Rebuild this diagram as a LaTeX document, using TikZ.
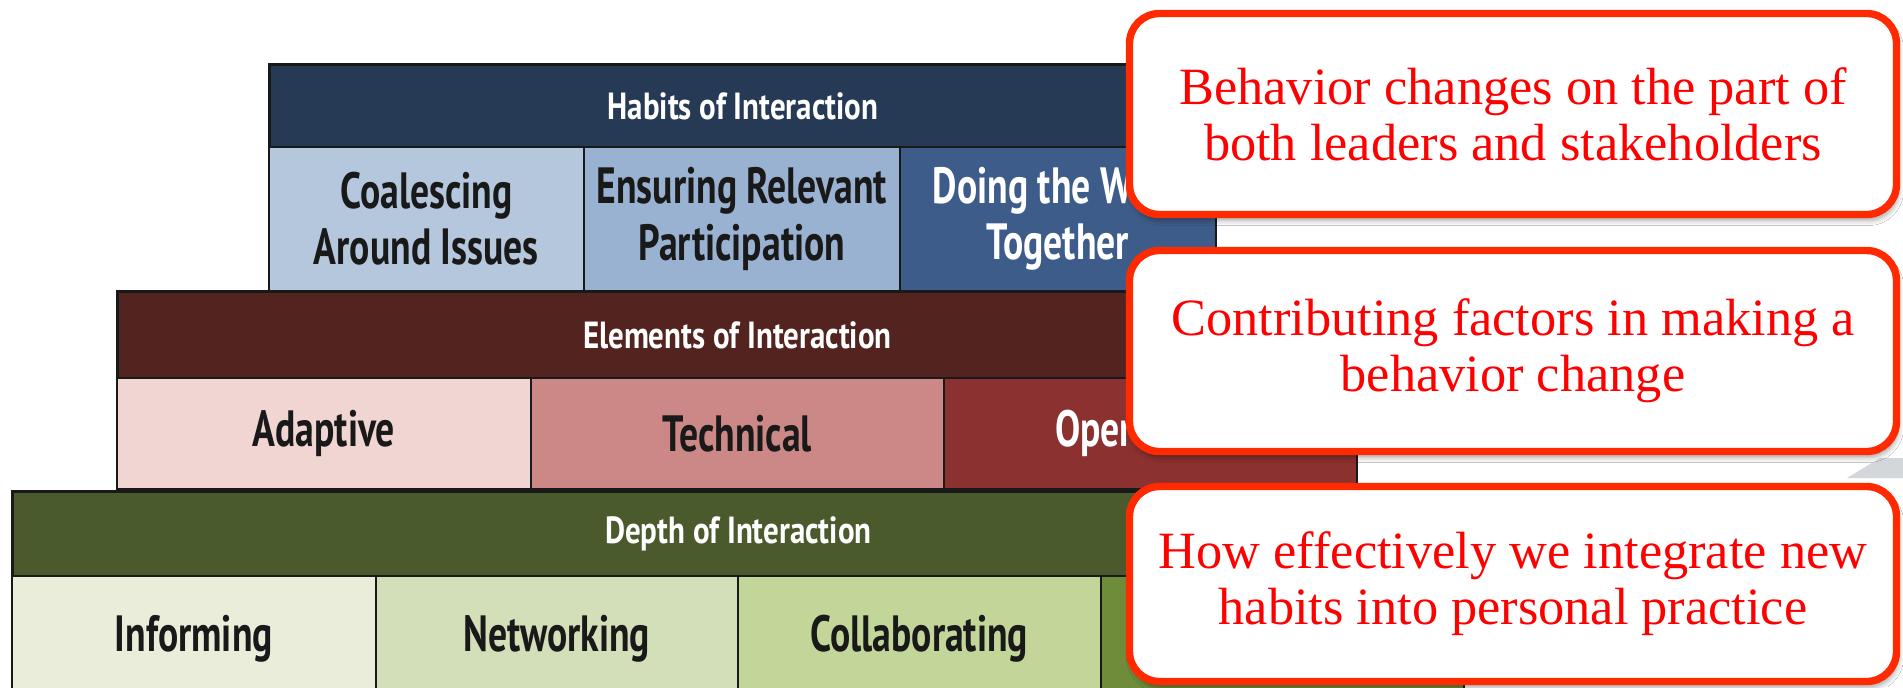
\documentclass[tikz,border=0pt]{standalone}
\usepackage{fontspec}
\usetikzlibrary{shadows.blur}

\newfontfamily\blockfont[FakeStretch=0.82]{PT Sans}
\newfontfamily\cellfont[FakeStretch=0.74]{PT Sans}
\newfontfamily\calloutfont{Liberation Serif}

% tier colours
\definecolor{habitsdark}{HTML}{263A56}
\definecolor{coalesce}{HTML}{B4C7DD}
\definecolor{ensuring}{HTML}{9AB2D1}
\definecolor{doing}{HTML}{3D5C89}
\definecolor{elemdark}{HTML}{53231F}
\definecolor{adaptive}{HTML}{F0D5D3}
\definecolor{technical}{HTML}{CC8886}
\definecolor{operational}{HTML}{8B3130}
\definecolor{depthdark}{HTML}{4A5A2C}
\definecolor{informing}{HTML}{EAEDDA}
\definecolor{networking}{HTML}{D3DFB8}
\definecolor{collab}{HTML}{C2D69A}
\definecolor{fourth}{HTML}{6F8C3B}
\definecolor{calloutred}{HTML}{FF2A00}
\definecolor{wedgegray}{HTML}{D3D6DA}

\tikzset{
  wh/.style 2 args={minimum width=#1*0.02cm, minimum height=#2*0.02cm},
  header/.style={draw=black!90, line width=1.6pt, anchor=north west, inner sep=0pt,
    text=white, font=\blockfont\bfseries\fontsize{21.5}{24}\selectfont},
  cell/.style={draw=black!90, line width=1pt, anchor=north west, inner sep=0pt,
    align=center, text=black!90, font=\cellfont\bfseries\fontsize{29}{32}\selectfont},
  callout/.style={draw=calloutred, line width=4.2pt, fill=white, rounded corners=0.6cm,
    wh={767}{201}, align=center, text=red,
    font=\calloutfont\fontsize{29.8}{32}\selectfont,
    blur shadow={shadow xshift=0.04cm, shadow yshift=-0.12cm,
      shadow blur radius=0.1cm, shadow opacity=35}}
}

\begin{document}
\begin{tikzpicture}[x=0.02cm, y=-0.02cm]
  \useasboundingbox (0,0) rectangle (1903,687);
  \clip (0,0) rectangle (1903,687);
  \fill[white] (0,0) rectangle (1903,687);

  % Habits tier
  \node[header, wh={947}{83}, fill=habitsdark] (habits) at (268,63) {Habits of Interaction};
  \node[cell, wh={315}{144}, fill=coalesce] (coalesce) at (268,146) {Coalescing\\Around Issues};
  \node[cell, wh={316}{144}, fill=ensuring] (ensure) at (583,146) {Ensuring Relevant\\Participation};
  \node[cell, wh={316}{144}, fill=doing, text=white] (doing) at (899,146) {Doing the Work\\Together};

  % Elements tier
  \node[header, wh={1240}{87}, fill=elemdark] (elements) at (116,290) {Elements of Interaction};
  \node[cell, wh={414}{111}, fill=adaptive] (adaptive) at (116,377) {Adaptive};
  \node[cell, wh={413}{111}, fill=technical] (technical) at (530,377) {Technical};
  \node[cell, wh={413}{111}, fill=operational, text=white] (operational) at (943,377) {Operational};

  % Depth tier
  \node[header, wh={1452}{85}, fill=depthdark] (depth) at (11,490) {Depth of Interaction};
  \node[cell, wh={364}{125}, fill=informing] (informing) at (11,575) {Informing};
  \node[cell, wh={362}{125}, fill=networking] (networking) at (375,575) {Networking};
  \node[cell, wh={363}{125}, fill=collab] (collab) at (737,575) {Collaborating};
  \node[cell, wh={363}{125}, fill=fourth] (fourth) at (1100,575) {};

  % grey wedge behind the callouts
  \fill[wedgegray] (1847,478) -- (1880,458) -- (1903,458) -- (1903,478) -- cycle;

  % callouts
  \node[callout] (leaders) at (1513,114) {Behavior changes on the part of\\both leaders and stakeholders};
  \node[callout] (factors) at (1513,351) {Contributing factors in making a\\behavior change};
  \node[callout, wh={767}{195}] (practice) at (1513,584) {How effectively we integrate new\\habits into personal practice};
\end{tikzpicture}
\end{document}
